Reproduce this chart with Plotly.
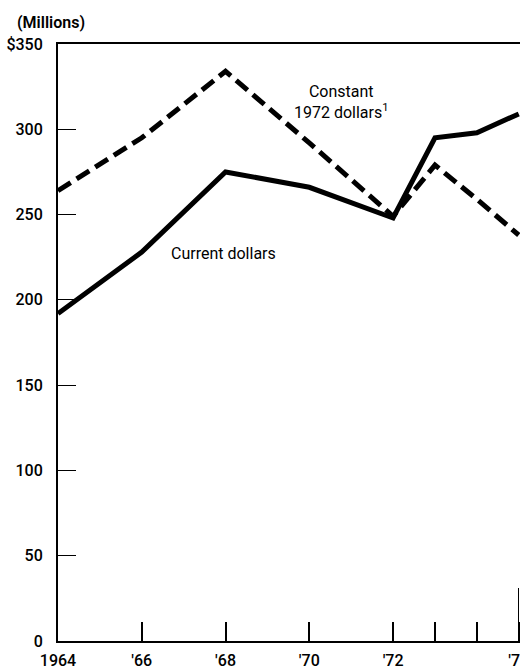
import plotly.graph_objects as go

years = [1964, 1966, 1968, 1970, 1972, 1973, 1974, 1975]
current_dollars = [192, 228, 275, 266, 248, 295, 298, 309]
constant_1972_dollars = [264, 295, 334, 292, 249, 279, 259, 238]

x_tick_vals = [1964, 1966, 1968, 1970, 1972, 1975]
x_tick_text = ["1964", "'66", "'68", "'70", "'72", "'75"]
x_minor_tick_vals = [1973, 1974]
x_long_tick_vals = [1975]
y_tick_vals = [0, 50, 100, 150, 200, 250, 300, 350]
y_tick_text = ["0", "50", "100", "150", "200", "250", "300", "$350"]

FONT = "Roboto, Liberation Sans Narrow, DejaVu Sans Condensed, sans-serif"
X_RANGE = [1964, 1975.03]

fig = go.Figure()
fig.add_trace(go.Scatter(x=years, y=constant_1972_dollars, mode="lines",
                         line=dict(color="black", width=5, dash="15px,7px"),
                         showlegend=False, hoverinfo="skip"))
fig.add_trace(go.Scatter(x=years, y=current_dollars, mode="lines",
                         line=dict(color="black", width=5),
                         showlegend=False, hoverinfo="skip"))
# empty trace so the overlay axis (long end tick) is drawn
fig.add_trace(go.Scatter(x=[None], y=[None], xaxis="x2", mode="lines",
                         showlegend=False, hoverinfo="skip"))

fig.add_annotation(x=1970.78, y=316, text="Constant<br>1972 dollars<sup>1</sup>",
                   showarrow=False, xanchor="center", yanchor="middle",
                   font=dict(family=FONT, size=16, color="black"), align="center")
fig.add_annotation(x=1966.65, y=227, text="Current dollars", showarrow=False,
                   xanchor="left", yanchor="middle",
                   font=dict(family=FONT, size=16, color="black"))
fig.add_annotation(xref="paper", yref="paper", x=-0.093, y=1.0, yshift=22,
                   text="(Millions)", showarrow=False, xanchor="left",
                   yanchor="middle",
                   font=dict(family=FONT, size=16, color="black", weight=600))

tick_font = dict(family=FONT, size=16, color="black", weight=500)

fig.update_layout(
    width=520, height=671,
    margin=dict(l=58, r=0, t=44, b=30, autoexpand=False),
    paper_bgcolor="white", plot_bgcolor="white",
    font=dict(family=FONT, size=16, color="black"),
    xaxis=dict(range=X_RANGE, tickvals=x_tick_vals, ticktext=x_tick_text,
               ticks="inside", ticklen=19, tickwidth=2, tickcolor="black",
               showline=True, linecolor="black", linewidth=2, mirror=True,
               showgrid=False, zeroline=False, ticklabelstandoff=4,
               ticklabeloverflow="allow", automargin=False, tickfont=tick_font,
               minor=dict(tickvals=x_minor_tick_vals, ticks="inside", ticklen=19,
                          tickwidth=2, tickcolor="black", showgrid=False)),
    xaxis2=dict(range=X_RANGE, overlaying="x", anchor="y", side="bottom",
                tickvals=x_long_tick_vals, ticks="inside", ticklen=53,
                tickwidth=1, tickcolor="black", showticklabels=False,
                automargin=False,
                showline=False, showgrid=False, zeroline=False),
    yaxis=dict(range=[0, 350], tickvals=y_tick_vals, ticktext=y_tick_text,
               ticks="inside", ticklen=18, tickwidth=1, tickcolor="black",
               showline=True, linecolor="black", linewidth=2, automargin=False,
               showgrid=False, zeroline=False, ticklabelstandoff=10,
               tickfont=tick_font),
)

fig.write_html(
    "out.html",
    config={"displayModeBar": False},
    post_script=("document.body.style.margin='0';"
                 "document.body.style.overflow='hidden';"
                 "document.documentElement.style.overflow='hidden';"),
)
